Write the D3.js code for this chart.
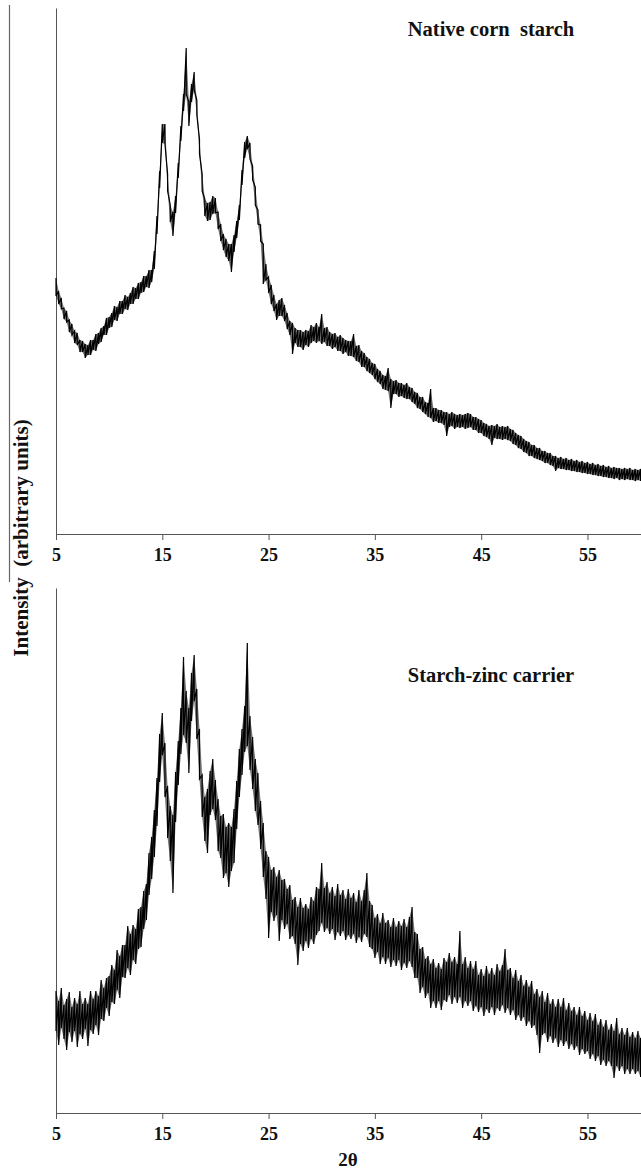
<!DOCTYPE html>
<html>
<head>
<meta charset="utf-8">
<script src="https://cdnjs.cloudflare.com/ajax/libs/d3/7.8.5/d3.min.js"></script>
<style>
  body { margin: 0; background: #fff; }
  svg text { font-family: "Liberation Serif", "Times New Roman", serif; font-weight: bold; fill: #111; white-space: pre; }
  .axis path, .axis line { stroke: #555; stroke-width: 1; }
  .trace { fill: none; stroke: #000; stroke-width: 1.2; stroke-linejoin: miter; }
  .band { fill: #000; fill-opacity: 0.55; stroke: none; }
</style>
</head>
<body>
<div id="chart"></div>
<script>

var angleStart = 5, angleStep = 0.25;
var tickAngles = [5, 15, 25, 35, 45, 55];
var panelTitles = ["Native corn  starch", "Starch-zinc carrier"];

// native corn starch: upper / lower edge of the noisy trace in each 0.25° bin (arbitrary units)
var nativeHi = [256,243,236,226,223,214,210,203,201,194,
  193,190,189,194,194,200,201,206,208,216,
  217,221,228,227,233,233,239,237,241,247,
  246,251,252,258,258,264,264,283,318,363,
  410,410,360,329,322,338,371,408,440,486,
  432,450,462,434,395,360,335,331,332,338,
  336,322,310,300,295,290,290,299,313,329,
  364,392,398,391,368,347,324,309,290,270,
  257,249,239,230,234,236,229,221,213,211,
  206,204,204,202,204,203,209,207,211,207,
  220,206,207,202,200,201,197,199,196,194,
  193,193,200,188,189,183,181,177,175,171,
  170,165,163,159,158,166,155,153,154,151,
  151,149,151,147,146,142,141,137,137,132,
  131,145,126,126,124,124,122,122,120,122,
  120,119,120,119,120,121,120,117,117,115,
  114,111,110,108,109,108,110,107,108,107,
  108,105,104,101,99,98,95,93,92,89,
  89,86,86,83,83,81,81,78,78,76,
  77,75,76,74,75,73,74,72,73,71,
  72,70,71,69,70,68,69,67,68,66,
  67,66,66,65,66,65,66,64,65,64,
  65];
var nativeLo = [238,230,225,215,212,202,199,191,189,182,
  182,176,179,179,184,183,190,192,199,199,
  206,207,214,213,220,220,225,224,230,230,
  235,235,241,242,247,246,252,265,300,346,
  391,390,343,312,298,321,356,393,423,440,
  408,432,444,419,380,343,318,313,314,320,
  321,305,293,284,277,273,262,282,296,314,
  349,376,385,375,354,329,310,293,250,254,
  241,230,223,214,218,218,213,205,199,180,
  191,187,187,184,189,187,191,193,191,193,
  190,192,188,188,185,187,183,183,180,182,
  178,178,177,173,172,167,167,163,161,159,
  155,152,150,145,144,143,126,140,140,137,
  138,136,135,135,132,130,126,125,122,120,
  117,116,112,113,111,111,109,98,107,108,
  105,107,106,107,105,106,107,104,104,101,
  101,98,97,95,89,96,95,95,94,95,
  94,93,90,89,86,85,82,81,78,78,
  76,75,74,73,71,71,69,68,63,66,
  65,65,64,64,63,63,62,62,61,61,
  60,60,59,59,58,58,57,57,56,56,
  55,56,54,55,54,55,54,54,53,54,
  53];

// starch-zinc carrier: same binning
var carrierHi = [122,112,125,108,114,121,106,115,109,122,
  109,115,109,122,114,122,117,133,125,135,
  137,148,143,163,157,168,168,187,179,188,
  184,204,206,222,229,260,276,303,335,379,
  400,370,327,307,298,341,372,405,456,422,
  405,440,458,424,384,338,316,324,342,354,
  333,314,297,299,286,290,286,304,332,364,
  384,407,470,397,376,354,340,312,290,262,
  256,243,246,236,243,233,234,224,228,213,
  216,206,215,205,209,204,216,212,226,224,
  250,225,231,220,226,217,229,218,223,214,
  224,215,220,211,223,212,223,240,212,208,
  195,199,190,200,190,193,186,195,186,192,
  187,194,186,196,206,181,179,164,166,154,
  157,149,154,145,150,144,155,151,160,151,
  156,149,182,149,156,145,152,144,152,138,
  144,137,147,139,145,138,149,142,148,164,
  143,145,135,143,132,138,127,133,126,132,
  119,124,116,122,111,120,109,114,106,114,
  106,115,103,110,102,106,98,106,97,102,
  93,100,92,99,88,94,86,93,83,89,
  82,95,79,85,78,85,76,81,75,82,
  75];
var carrierLo = [82,68,85,74,63,81,71,82,66,79,
  74,84,67,83,79,88,78,94,92,105,
  97,111,109,123,115,136,135,145,138,153,
  149,164,166,184,193,218,234,256,287,331,
  358,316,275,252,220,291,328,359,378,370,
  340,392,412,374,334,296,272,260,298,304,
  293,262,255,235,240,226,242,250,284,316,
  338,361,367,343,324,302,288,264,236,214,
  175,201,192,198,172,193,184,189,174,177,
  169,148,169,162,172,165,174,169,178,182,
  190,181,185,179,184,173,181,177,182,173,
  178,174,179,170,176,171,179,176,166,164,
  155,161,149,156,149,155,146,153,147,153,
  143,150,145,152,146,135,135,120,126,115,
  120,105,112,105,112,103,113,111,118,109,
  116,110,116,105,112,107,112,102,107,101,
  106,97,104,100,106,98,105,102,108,100,
  105,98,103,93,98,92,96,87,92,85,
  88,78,60,78,80,71,77,70,75,66,
  73,67,72,64,69,63,67,58,64,59,
  62,54,59,52,57,48,53,47,52,47,
  35,47,42,47,39,44,39,44,39,42,
  36];

var width = 641, height = 1172;

var svg = d3.select("#chart").append("svg")
    .attr("width", width)
    .attr("height", height);

// shared 2θ scale
var x = d3.scaleLinear()
    .domain([5, 60])
    .range([56, 640.6]);

/*
 * one diffractogram panel
 */
XrdPanel = function (_svg, _box, _title, _hi, _lo) {
  this.svg = _svg;
  this.box = _box;
  this.title = _title;
  this.hi = _hi;
  this.lo = _lo;
  this.initVis();
}

XrdPanel.prototype.initVis = function () {
  var vis = this;

  vis.y = d3.scaleLinear()
      .domain([0, vis.box.bottom - vis.box.top])
      .range([vis.box.bottom, vis.box.top]);

  vis.xAxis = d3.axisBottom(x)
      .tickValues(tickAngles)
      .tickSize(6)
      .tickSizeOuter(0)
      .tickPadding(8);

  vis.yAxis = d3.axisLeft(vis.y)
      .tickValues([])
      .tickSizeOuter(0);

  vis.g = vis.svg.append("g");

  vis.g.append("g")
      .attr("class", "x-axis axis")
      .attr("transform", "translate(0," + vis.box.bottom + ")")
      .call(vis.xAxis);

  vis.g.append("g")
      .attr("class", "y-axis axis")
      .attr("transform", "translate(" + x.range()[0] + ",0)")
      .call(vis.yAxis);

  vis.g.selectAll(".x-axis text")
      .attr("font-size", "18px")
      .style("font-family", "'Liberation Serif', serif");

  vis.g.append("text")
      .attr("class", "panel-title")
      .attr("x", 491)
      .attr("y", vis.box.titleY)
      .attr("text-anchor", "middle")
      .attr("font-size", "20.5px")
      .text(vis.title);

  vis.updateVis();
}

XrdPanel.prototype.updateVis = function () {
  var vis = this;

  var angles = vis.hi.map(function (h, i) { return angleStart + i * angleStep; });

  // dark core of the noise band
  var area = d3.area()
      .x(function (d, i) { return x(angles[i]); })
      .y0(function (d, i) { return vis.y(vis.lo[i]); })
      .y1(function (d) { return vis.y(d); });

  vis.g.append("path")
      .datum(vis.hi)
      .attr("class", "band")
      .attr("d", area);

  // each bin drawn as a vertical run from its top to its bottom edge
  var pts = [];
  vis.hi.forEach(function (h, i) {
    pts.push([angles[i], h]);
    pts.push([angles[i], vis.lo[i]]);
  });

  var line = d3.line()
      .x(function (d) { return x(d[0]); })
      .y(function (d) { return vis.y(d[1]); });

  vis.g.append("path")
      .datum(pts)
      .attr("class", "trace")
      .attr("d", line);
}

var topPanel = new XrdPanel(svg, { top: 8, bottom: 534, titleY: 36 }, panelTitles[0], nativeHi, nativeLo);
var bottomPanel = new XrdPanel(svg, { top: 588, bottom: 1113, titleY: 682 }, panelTitles[1], carrierHi, carrierLo);

// thin rule at the far left of the figure
svg.append("line")
    .attr("x1", 9.5).attr("x2", 9.5)
    .attr("y1", 5).attr("y2", 582)
    .attr("stroke", "#666")
    .attr("stroke-width", 1.2);

svg.append("text")
    .attr("transform", "translate(28,538) rotate(-90)")
    .attr("text-anchor", "middle")
    .attr("font-size", "21px")
    .text("Intensity  (arbitrary units)");

svg.append("text")
    .attr("x", 348)
    .attr("y", 1166)
    .attr("text-anchor", "middle")
    .attr("font-size", "19px")
    .text("2θ");

</script>
</body>
</html>
